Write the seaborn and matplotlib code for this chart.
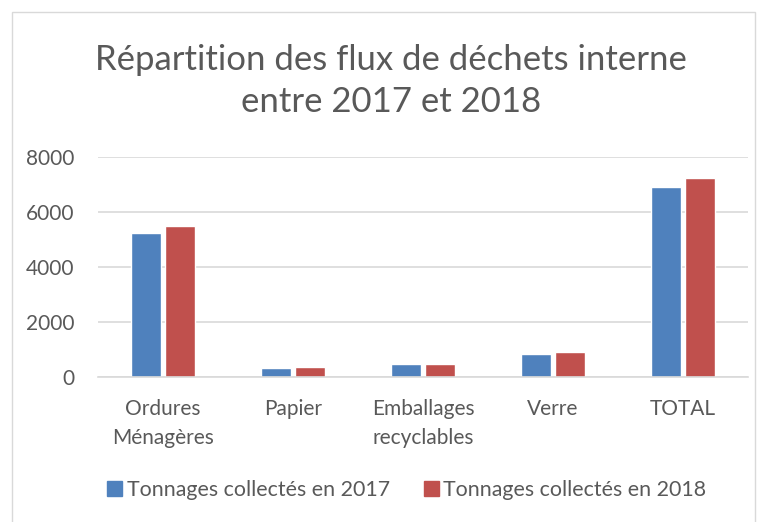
import matplotlib.pyplot as plt
import pandas as pd
import seaborn as sns
from matplotlib.patches import Rectangle

CATEGORIES = ["Ordures\nMénagères", "Papier", "Emballages\nrecyclables", "Verre", "TOTAL"]
TONNES_2017 = [5250, 320, 475, 850, 6900]
TONNES_2018 = [5480, 350, 475, 925, 7220]
SERIES = ["Tonnages collectés en 2017", "Tonnages collectés en 2018"]
COLORS = ["#4F81BD", "#C0504D"]
TITLE = "Répartition des flux de déchets interne\nentre 2017 et 2018"
TEXT_COLOR = "#595959"
GRID_COLOR = "#D9D9D9"


def build_frame():
    rows = []
    for series, values in zip(SERIES, [TONNES_2017, TONNES_2018]):
        for cat, val in zip(CATEGORIES, values):
            rows.append({"categorie": cat, "serie": series, "tonnes": val})
    return pd.DataFrame(rows)


def main():
    sns.set_theme(style="white")
    plt.rcParams["font.family"] = ["Lato", "DejaVu Sans"]

    df = build_frame()
    fig = plt.figure(figsize=(7.65, 5.22), dpi=100)
    fig.patches.append(Rectangle((12 / 765, -0.01), 743 / 765, 1.0 - 12 / 522 + 0.01,
                                 transform=fig.transFigure, fill=False,
                                 edgecolor=GRID_COLOR, linewidth=1.0))
    ax = fig.add_axes([98 / 765, 1 - 377 / 522, 650 / 765, 220 / 522])

    sns.barplot(data=df, x="categorie", y="tonnes", hue="serie", palette=COLORS,
                width=0.523, gap=0.12, ax=ax, legend=False, saturation=1)

    ax.set_ylim(0, 8000)
    ax.set_xlim(-0.5, len(CATEGORIES) - 0.5)
    ax.set_yticks([0, 2000, 4000, 6000, 8000])
    ax.yaxis.grid(True, color=GRID_COLOR, linewidth=1.2)
    ax.set_axisbelow(True)
    for side in ["top", "right", "left"]:
        ax.spines[side].set_visible(False)
    ax.spines["bottom"].set_color(GRID_COLOR)
    ax.spines["bottom"].set_linewidth(1.2)
    ax.tick_params(axis="both", length=0, labelsize=15, colors=TEXT_COLOR)
    ax.tick_params(axis="x", pad=16)
    ax.tick_params(axis="y", pad=17)
    for lbl in ax.get_xticklabels():
        lbl.set_linespacing(1.55)
    ax.set_xlabel("")
    ax.set_ylabel("")

    fig.text(0.511, 1 - 81 / 522, TITLE, ha="center", va="center", fontsize=25,
             color=TEXT_COLOR, linespacing=1.4)

    handles = [Rectangle((0, 0), 1, 1, color=c) for c in COLORS]
    fig.legend(handles, SERIES, loc="center", bbox_to_anchor=(0.532, 1 - 490 / 522),
               ncol=2, frameon=False, fontsize=15.4, handlelength=0.7, handleheight=0.7,
               handletextpad=0.2, columnspacing=1.6, labelcolor=TEXT_COLOR)

    fig.savefig("out.png", dpi=100)


if __name__ == "__main__":
    main()
